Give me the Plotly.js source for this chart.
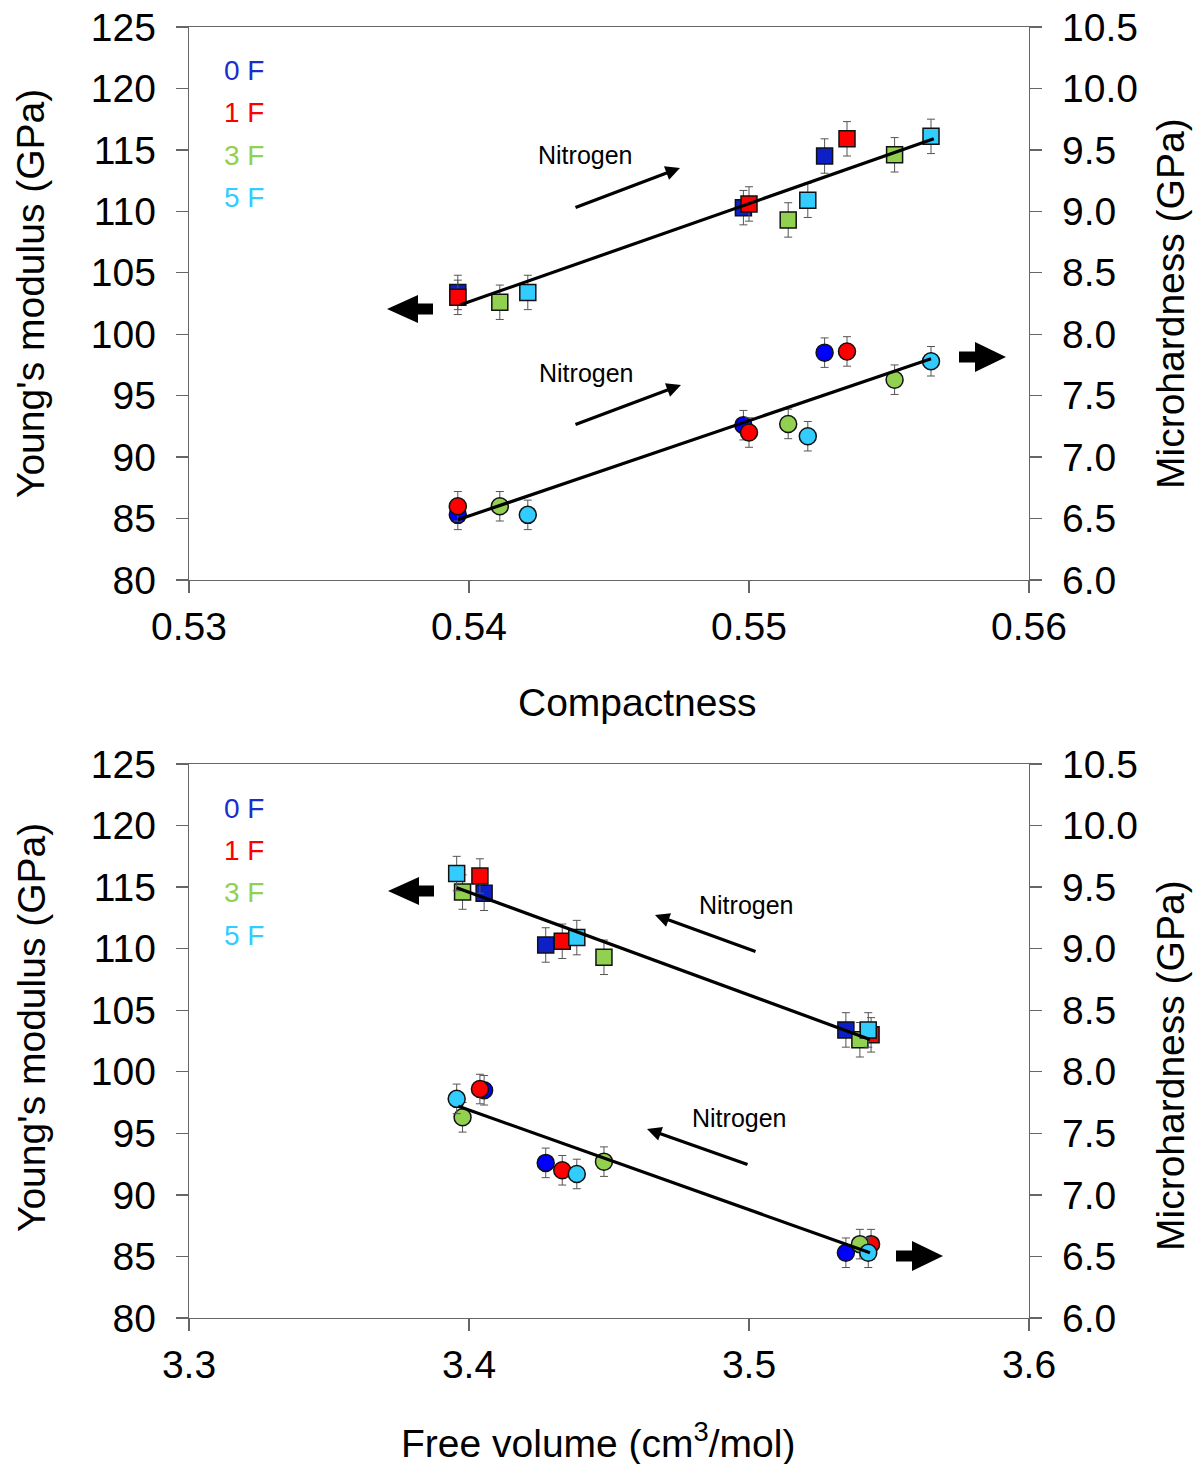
<!DOCTYPE html>
<html>
<head>
<meta charset="utf-8">
<script src="https://cdn.plot.ly/plotly-3.0.1.min.js"></script>
<style>html,body{margin:0;padding:0;background:#fff;}#chart{width:1202px;height:1464px;}</style>
</head>
<body>
<div id="chart"></div>
<script>
// ---- Data (points ordered by increasing nitrogen) ----
const groups = ['0 F', '1 F', '3 F', '5 F'];
const compactness0F = [0.5396, 0.5498, 0.5527];
const compactness1F = [0.5396, 0.5500, 0.5535];
const compactness3F = [0.5411, 0.5514, 0.5552];
const compactness5F = [0.5421, 0.5521, 0.5565];
const freeVolume0F = [3.5346, 3.4274, 3.4054];
const freeVolume1F = [3.5436, 3.4333, 3.4039];
const freeVolume3F = [3.5396, 3.4482, 3.3977];
const freeVolume5F = [3.5426, 3.4385, 3.3956];
const modulus0F = [103.4, 110.3, 114.5];
const modulus1F = [103.0, 110.6, 115.9];
const modulus3F = [102.6, 109.3, 114.6];
const modulus5F = [103.4, 110.9, 116.1];
const hardness0F = [6.53, 7.26, 7.85];
const hardness1F = [6.60, 7.20, 7.86];
const hardness3F = [6.60, 7.27, 7.63];
const hardness5F = [6.53, 7.17, 7.78];
const modulusErr = 1.4;
const hardnessErr = 0.12;
// trend lines (end points)
const fitCompactX = [0.5397, 0.5566];
const fitCompactModulus = [102.4, 115.9];
const fitCompactHardX = [0.5396, 0.5565];
const fitCompactHardness = [6.49, 7.80];
const fitFreeVolX = [3.3956, 3.5432];
const fitFreeVolModulus = [114.95, 102.63];
const fitFreeVolHardX = [3.3962, 3.5432];
const fitFreeVolHardness = [7.72, 6.53];

const compactness = [compactness0F, compactness1F, compactness3F, compactness5F];
const freeVolume = [freeVolume0F, freeVolume1F, freeVolume3F, freeVolume5F];
const modulus = [modulus0F, modulus1F, modulus3F, modulus5F];
const hardness = [hardness0F, hardness1F, hardness3F, hardness5F];

const squareColors = ['#0D20C8', '#FF0000', '#92D050', '#33CCFF'];
const circleColors = ['#0000FF', '#FF0000', '#92D050', '#33CCFF'];
const labelColors = ['#1A2ECC', '#FF0000', '#92D050', '#33CCFF'];

const FONT = 'Liberation Sans, Arial, Helvetica, sans-serif';
const errStyle = (v) => ({type: 'constant', value: v, color: '#555', thickness: 1, width: 4});

const traces = [];
function addSet(xs, xa, ya, ya2) {
  for (let i = 0; i < 4; i++) {
    traces.push({x: xs[i], y: modulus[i], xaxis: xa, yaxis: ya, type: 'scatter', mode: 'markers',
      name: groups[i], error_y: errStyle(modulusErr),
      marker: {symbol: 'square', size: 16, color: squareColors[i], line: {color: '#111', width: 1.5}}});
  }
  for (let i = 0; i < 4; i++) {
    traces.push({x: xs[i], y: hardness[i], xaxis: xa, yaxis: ya2, type: 'scatter', mode: 'markers',
      name: groups[i], error_y: errStyle(hardnessErr),
      marker: {symbol: 'circle', size: 17, color: circleColors[i], line: {color: '#111', width: 1.5}}});
  }
}
addSet(compactness, 'x', 'y', 'y2');
addSet(freeVolume, 'x2', 'y3', 'y4');
const lineStyle = {color: '#000', width: 3.2};
traces.push({x: fitCompactX, y: fitCompactModulus, xaxis: 'x', yaxis: 'y', mode: 'lines', line: lineStyle});
traces.push({x: fitCompactHardX, y: fitCompactHardness, xaxis: 'x', yaxis: 'y2', mode: 'lines', line: lineStyle});
traces.push({x: fitFreeVolX, y: fitFreeVolModulus, xaxis: 'x2', yaxis: 'y3', mode: 'lines', line: lineStyle});
traces.push({x: fitFreeVolHardX, y: fitFreeVolHardness, xaxis: 'x2', yaxis: 'y4', mode: 'lines', line: lineStyle});

// ---- layout geometry (pixels -> paper) ----
const L = 189, R = 1029, T = 27, B = 1318;
const px = (x) => (x - L) / (R - L);
const py = (y) => (B - y) / (B - T);
const topDom = [py(580), 1];
const botDom = [0, py(764)];

const tickFont = {family: FONT, size: 39, color: '#000'};
const axisLine = '#666';
const baseX = {showgrid: false, zeroline: false, showline: true, linecolor: axisLine, linewidth: 1.3,
  mirror: true, ticks: 'outside', ticklen: 12, tickcolor: axisLine, tickwidth: 1.3, tickfont: tickFont,
  ticklabelstandoff: 0};
const baseY = {showgrid: false, zeroline: false, showline: true, linecolor: axisLine, linewidth: 1.3,
  ticks: 'outside', ticklen: 12, tickcolor: axisLine, tickwidth: 1.3, tickfont: tickFont,
  ticklabelstandoff: 12};

function path(pts) {
  return 'M' + pts.map(p => px(p[0]) + ',' + py(p[1])).join(' L') + ' Z';
}
function leftArrow(tipX, cy) {
  return path([[tipX, cy], [tipX + 31, cy - 14], [tipX + 31, cy - 5.5], [tipX + 46, cy - 5.5],
    [tipX + 46, cy + 5.5], [tipX + 31, cy + 5.5], [tipX + 31, cy + 14]]);
}
function rightArrow(tipX, cy) {
  return path([[tipX, cy], [tipX - 31, cy - 15], [tipX - 31, cy - 5.5], [tipX - 47, cy - 5.5],
    [tipX - 47, cy + 5.5], [tipX - 31, cy + 5.5], [tipX - 31, cy + 15]]);
}
const shapes = [
  {type: 'path', xref: 'paper', yref: 'paper', path: leftArrow(387, 309), fillcolor: '#000', line: {width: 0}},
  {type: 'path', xref: 'paper', yref: 'paper', path: rightArrow(1006, 357), fillcolor: '#000', line: {width: 0}},
  {type: 'path', xref: 'paper', yref: 'paper', path: leftArrow(388, 891), fillcolor: '#000', line: {width: 0}},
  {type: 'path', xref: 'paper', yref: 'paper', path: rightArrow(943, 1256), fillcolor: '#000', line: {width: 0}}
];

const annotations = [];
const titleFont = {family: FONT, size: 39, color: '#000'};
function ann(text, x, y, opts) {
  annotations.push(Object.assign({text: text, xref: 'paper', yref: 'paper', x: px(x), y: py(y),
    showarrow: false, xanchor: 'center', yanchor: 'middle', font: titleFont}, opts || {}));
}
ann("Young's modulus (GPa)", 31, 294, {textangle: -90});
ann('Microhardness (GPa)', 1170, 304, {textangle: -90});
ann('Compactness', 637, 702);
ann("Young's modulus (GPa)", 31, 1028, {textangle: -90});
ann('Microhardness (GPa)', 1170, 1066, {textangle: -90});
ann('Free volume (cm<sup>3</sup>/mol)', 598, 1440);

const legendTop = [71, 113, 156, 198];
const legendBot = [808, 850, 892, 935];
for (let i = 0; i < 4; i++) {
  ann(groups[i], 222, legendTop[i], {xanchor: 'left', font: {family: FONT, size: 28, color: labelColors[i]}});
  ann(groups[i], 222, legendBot[i], {xanchor: 'left', font: {family: FONT, size: 28, color: labelColors[i]}});
}
const nFont = {family: FONT, size: 25, color: '#000'};
ann('Nitrogen', 585, 155, {font: nFont});
ann('Nitrogen', 586, 373, {font: nFont});
ann('Nitrogen', 746, 905, {font: nFont});
ann('Nitrogen', 739, 1118, {font: nFont});
function arrow(tx, ty, hx, hy) {
  annotations.push({text: '', xref: 'paper', yref: 'paper', x: px(hx), y: py(hy), ax: tx - hx, ay: ty - hy,
    showarrow: true, arrowhead: 2, arrowsize: 0.9, arrowwidth: 3.2, arrowcolor: '#000'});
}
arrow(574, 208, 680, 168);
arrow(574, 425, 681, 385);
arrow(757, 952, 655, 915);
arrow(749, 1165, 647, 1129);

const layout = {
  width: 1202, height: 1464, showlegend: false,
  paper_bgcolor: '#fff', plot_bgcolor: '#fff',
  margin: {l: L, r: 1202 - R, t: T, b: 1464 - B, pad: 0},
  xaxis: Object.assign({}, baseX, {domain: [0, 1], anchor: 'y', range: [0.53, 0.56], dtick: 0.01, tick0: 0.53, tickformat: '.2f'}),
  yaxis: Object.assign({}, baseY, {domain: topDom, anchor: 'x', range: [80, 125], dtick: 5, tick0: 80}),
  yaxis2: Object.assign({}, baseY, {overlaying: 'y', side: 'right', anchor: 'x', range: [6, 10.5], dtick: 0.5, tick0: 6, tickformat: '.1f'}),
  xaxis2: Object.assign({}, baseX, {domain: [0, 1], anchor: 'y3', range: [3.3, 3.6], dtick: 0.1, tick0: 3.3, tickformat: '.1f'}),
  yaxis3: Object.assign({}, baseY, {domain: botDom, anchor: 'x2', range: [80, 125], dtick: 5, tick0: 80}),
  yaxis4: Object.assign({}, baseY, {overlaying: 'y3', side: 'right', anchor: 'x2', range: [6, 10.5], dtick: 0.5, tick0: 6, tickformat: '.1f'}),
  shapes: shapes,
  annotations: annotations
};

Plotly.newPlot('chart', traces, layout, {staticPlot: true, displayModeBar: false});
</script>
</body>
</html>
